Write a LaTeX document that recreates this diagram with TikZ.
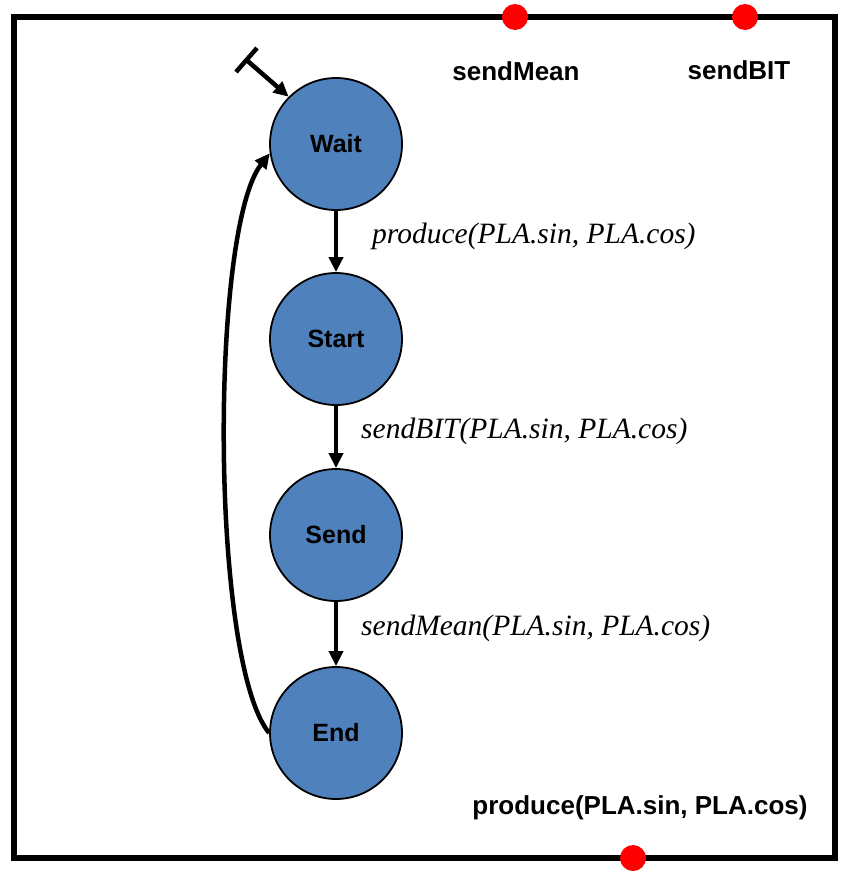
\documentclass[tikz,border=0pt]{standalone}
\usepackage{fontspec}
\setmainfont{Liberation Serif}
\setsansfont{Liberation Sans}
\usetikzlibrary{arrows.meta}
\definecolor{stateblue}{HTML}{4F81BD}
\tikzset{
  state/.style={circle, draw=black, line width=1.8pt, fill=stateblue, minimum size=132pt, inner sep=0pt,
    font=\sffamily\bfseries\fontsize{25}{28}\selectfont},
  port/.style={circle, fill=red, minimum size=26pt, inner sep=0pt},
  portlabel/.style={font=\sffamily\bfseries\fontsize{26}{30}\selectfont, inner sep=0pt},
  trlabel/.style={font=\itshape\fontsize{29.5}{33}\selectfont, inner sep=0pt, anchor=west},
  trans/.style={line width=4.5pt, -{Triangle[length=15pt,width=14pt]}},
}
\begin{document}
\begin{tikzpicture}[x=1pt,y=-1pt]
\useasboundingbox (0,0) rectangle (848,881);
\draw[line width=5.5pt] (14,17) rectangle (835,858);
\node[port] (pMean) at (515,17) {};
\node[port] (pBIT) at (745,17) {};
\node[port] (pProd) at (633,858) {};
\node[portlabel] (lMean) at (516,71) {sendMean};
\node[portlabel] (lBIT) at (739,70) {sendBIT};
\node[portlabel] (lProd) at (640,808) {produce(PLA.sin, PLA.cos)};
\node[state] (wait) at (336,144) {Wait};
\node[state] (start) at (336,339) {Start};
\node[state] (send) at (336,535) {Send};
\node[state] (end) at (336,733) {End};
\coordinate (barA) at (236,72);
\coordinate (barB) at (257,48);
\coordinate (init) at (246.5,60);
\draw[line width=4.5pt] (barA) -- (barB);
\draw[trans] (init) -- (wait.135);
\draw[trans] (wait) -- (start);
\draw[trans] (start) -- (send);
\draw[trans] (send) -- (end);
\draw[trans] (end.west) .. controls (210,660) and (210,230) .. (wait.188);
\node[trlabel] (t1) at (372,236) {produce(PLA.sin, PLA.cos)};
\node[trlabel] (t2) at (361,431) {sendBIT(PLA.sin, PLA.cos)};
\node[trlabel] (t3) at (361,628) {sendMean(PLA.sin, PLA.cos)};
\end{tikzpicture}
\end{document}
